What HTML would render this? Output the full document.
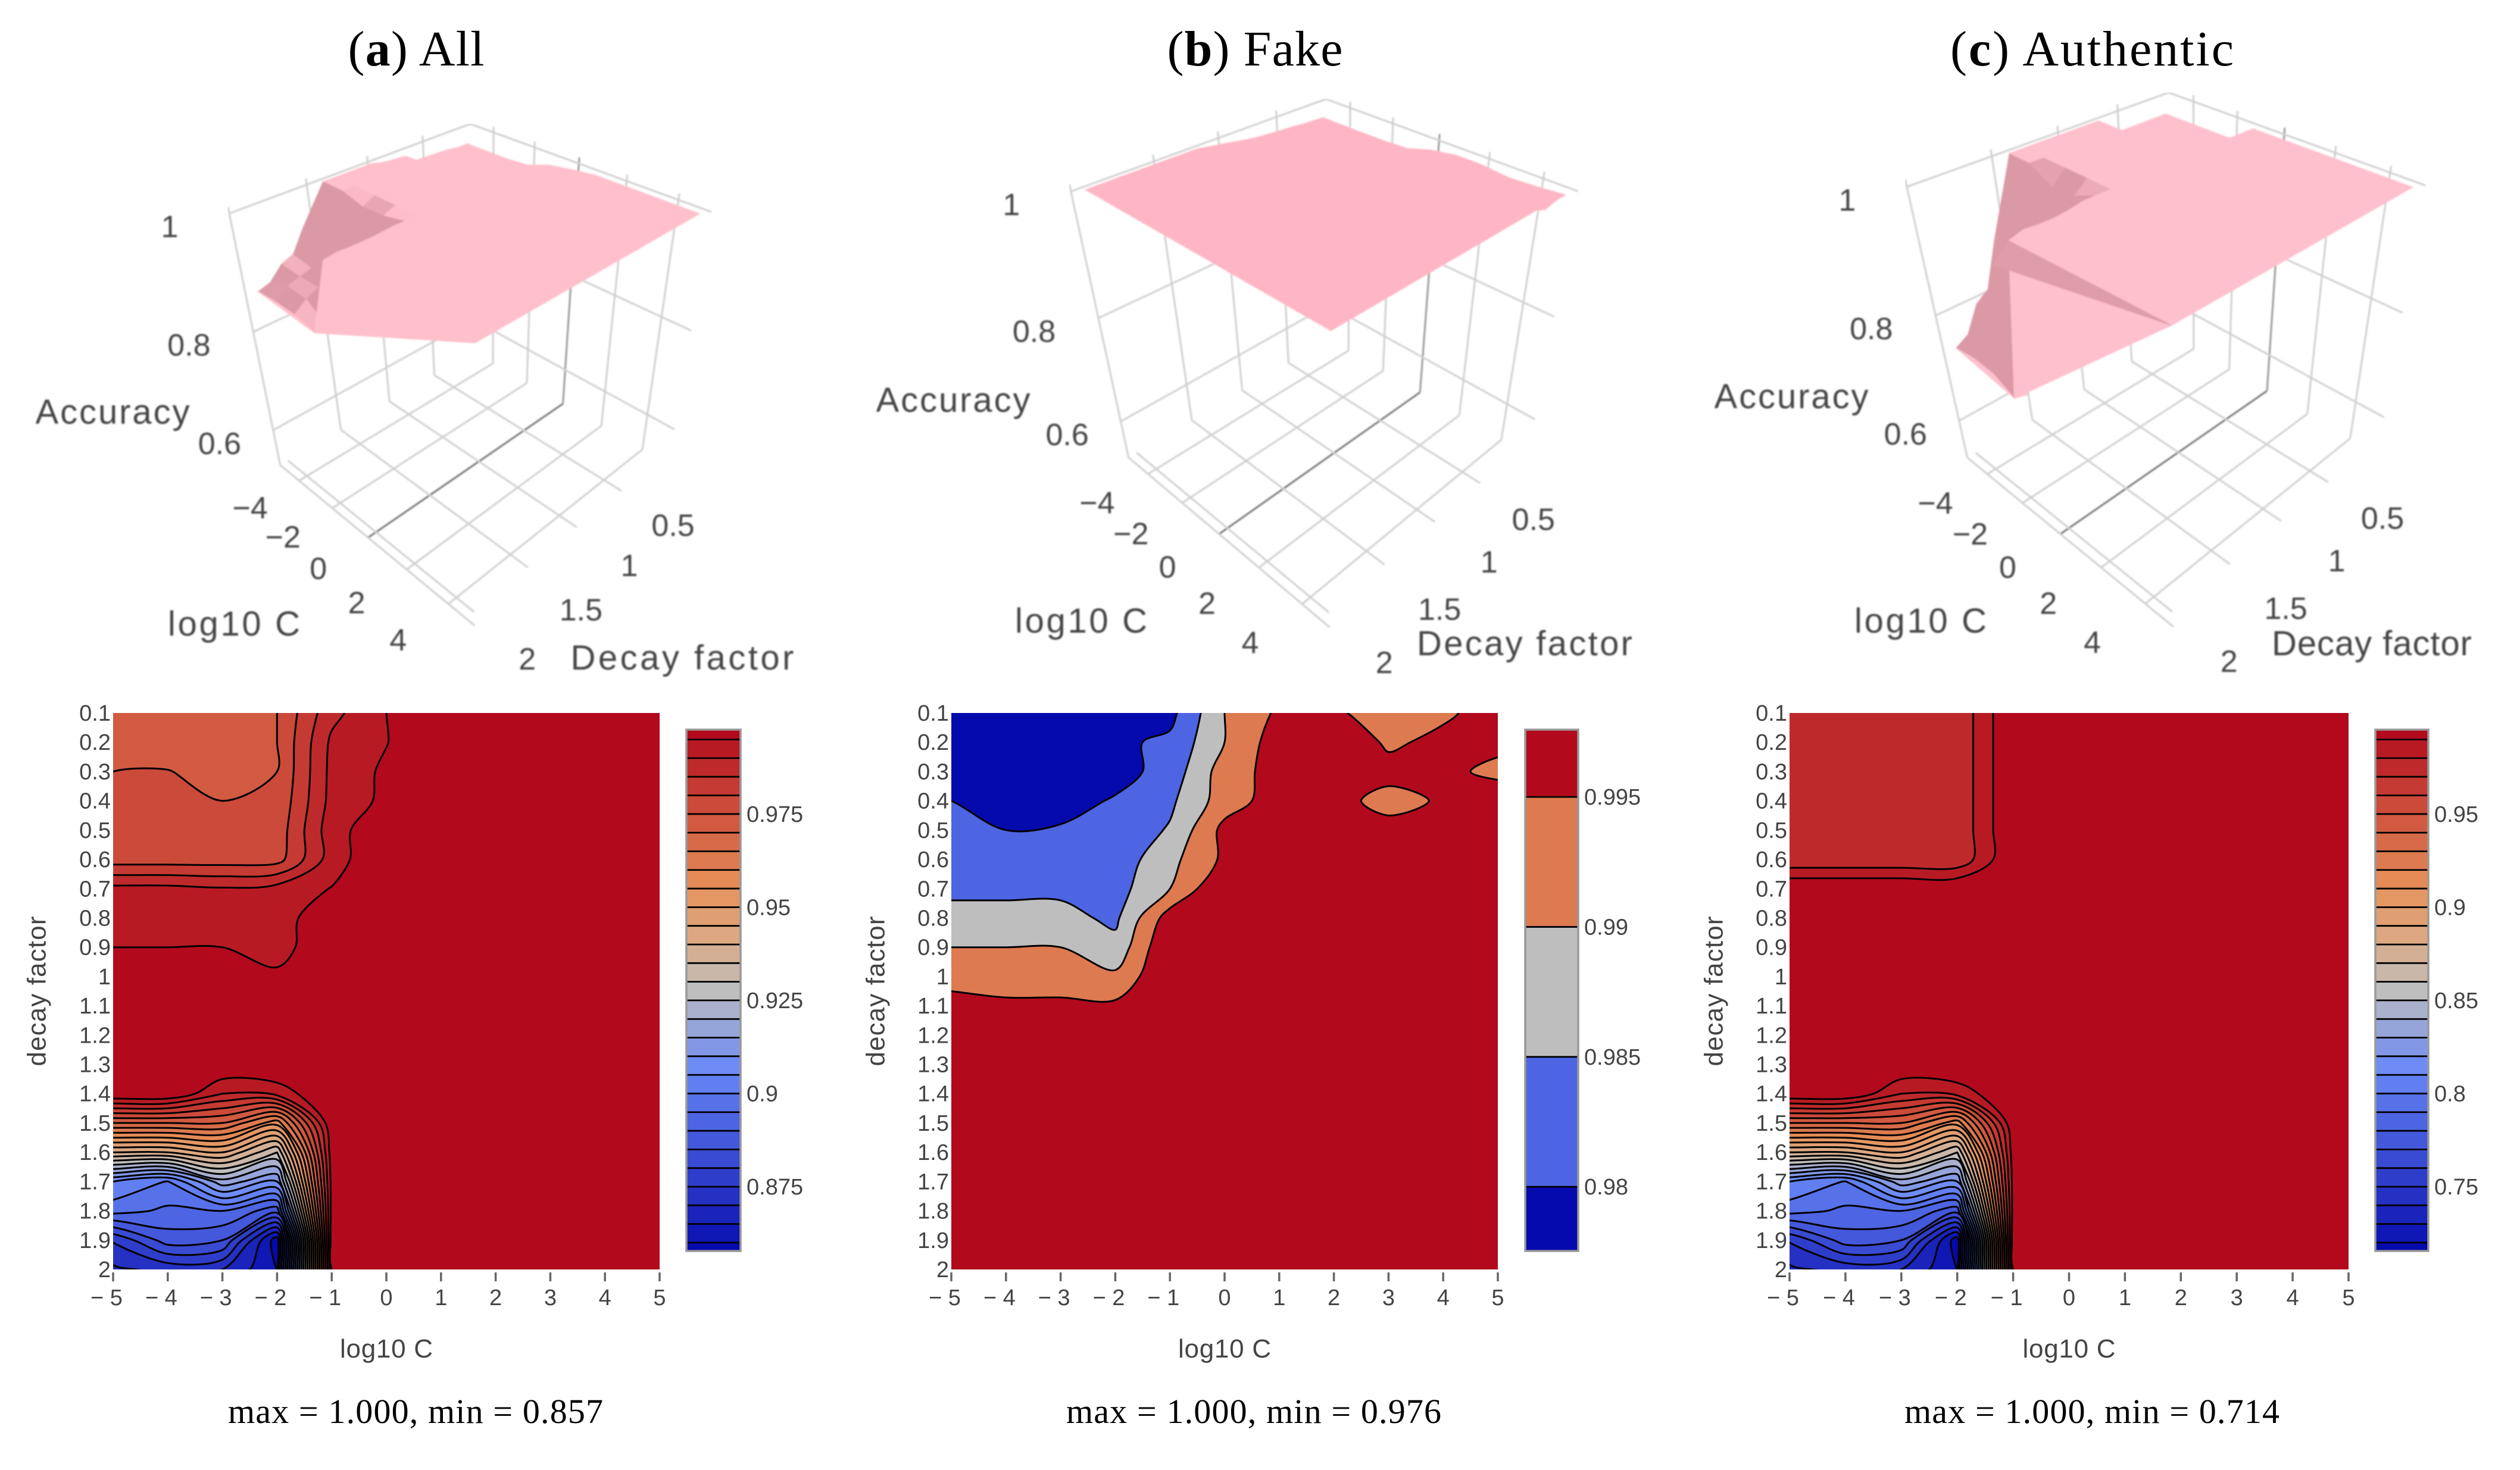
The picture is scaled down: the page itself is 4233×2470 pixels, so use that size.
<!DOCTYPE html>
<html lang="en">
<head>
<meta charset="utf-8">
<title>Accuracy surfaces and contour maps</title>
<style>
html,body{margin:0;padding:0;background:#fff;}
svg{display:block;}
text{font-family:"Liberation Sans",sans-serif;fill:#444;}
.serif{font-family:"Liberation Serif",serif;fill:#000;}
</style>
</head>
<body>
<svg id="figure" xmlns="http://www.w3.org/2000/svg" width="4233" height="2470" viewBox="0 0 4233 2470">
<defs>
<filter id="soft" x="0" y="0" width="100%" height="100%"><feGaussianBlur stdDeviation="1.4"/></filter>
<clipPath id="clip-all"><rect x="190" y="1198" width="918" height="935"/></clipPath>
<clipPath id="clip-fake"><rect x="1598" y="1198" width="918" height="935"/></clipPath>
<clipPath id="clip-auth"><rect x="3006" y="1198" width="939" height="935"/></clipPath>
</defs>
<rect width="4233" height="2470" fill="#fff"/>
</svg>
<script>
// ---------- data ----------
const logC = [-5,-4,-3,-2,-1,0,1,2,3,4,5];
const decay = [0.1,0.2,0.3,0.4,0.5,0.6,0.7,0.8,0.9,1,1.1,1.2,1.3,1.4,1.5,1.6,1.7,1.8,1.9,2];
const xTickLabels = ['− 5','− 4','− 3','− 2','− 1','0','1','2','3','4','5'];
const yTickLabels = ['0.1','0.2','0.3','0.4','0.5','0.6','0.7','0.8','0.9','1','1.1','1.2','1.3','1.4','1.5','1.6','1.7','1.8','1.9','2'];
const cTicks3d = [-4,-2,0,2,4];
const decayTicks3d = [0.5,1,1.5,2];
const accTicks3d = [1,0.8,0.6];

const zAll = [
[.972,.972,.972,.975,.9885,.995,1,1,1,1,1],
[.972,.972,.972,.975,.991,.9948,1,1,1,1,1],
[.975,.9752,.973,.975,.9915,.9959,1,1,1,1,1],
[.976,.977,.975,.976,.9917,.9961,1,1,1,1,1],
[.977,.977,.977,.977,.993,.9987,1,1,1,1,1],
[.9775,.9775,.9775,.978,.9925,1,1,1,1,1,1],
[.9915,.9915,.9905,.992,.9952,1,1,1,1,1,1],
[.993,.993,.992,.9925,.9989,1,1,1,1,1,1],
[.995,.995,.995,.9935,.998,1,1,1,1,1,1],
[1,1,1,.9957,1,1,1,1,1,1,1],
[1,1,1,1,1,1,1,1,1,1,1],
[1,1,1,1,1,1,1,1,1,1,1],
[1,1,1,1,1,1,1,1,1,1,1],
[1,1,.99,.992,1,1,1,1,1,1,1],
[.97,.97,.97,.957,1,1,1,1,1,1,1],
[.94,.94,.945,.93,.998,1,1,1,1,1,1],
[.905,.8997,.918,.91,.997,1,1,1,1,1,1],
[.897,.894,.895,.887,.997,1,1,1,1,1,1],
[.8755,.8875,.885,.857,.998,1,1,1,1,1,1],
[.869,.8715,.87,.86,.995,1,1,1,1,1,1]
];
const zFake = [
[.976,.976,.976,.9765,.9785,.99,.9959,.996,.992,.994,.9975],
[.977,.976,.977,.979,.981,.99,.9977,1,.994,.9965,.9971],
[.978,.977,.977,.978,.982,.9925,.997,1,.997,.997,.993],
[.98,.978,.978,.9805,.984,.9925,.9975,.997,.993,.9957,1],
[.981,.98,.9805,.9815,.9855,.9965,1,1,.997,1,1],
[.9825,.982,.982,.982,.9885,.996,1,1,1,1,1],
[.984,.984,.984,.983,.99,1,1,1,1,1,1],
[.9865,.9865,.9865,.984,.9975,1,1,1,1,1,1],
[.99,.99,.99,.9865,1,1,1,1,1,1,1],
[.9935,.993,.993,.991,1,1,1,1,1,1,1],
[.9965,.9958,.9958,.996,1,1,1,1,1,1,1],
[1,1,1,1,1,1,1,1,1,1,1],
[1,1,1,1,1,1,1,1,1,1,1],
[1,1,1,1,1,1,1,1,1,1,1],
[1,1,1,1,1,1,1,1,1,1,1],
[1,1,1,1,1,1,1,1,1,1,1],
[1,1,1,1,1,1,1,1,1,1,1],
[1,1,1,1,1,1,1,1,1,1,1],
[1,1,1,1,1,1,1,1,1,1,1],
[1,1,1,1,1,1,1,1,1,1,1]
];
const zAuth = [
[.972,.972,.972,.972,1,1,1,1,1,1,1],
[.972,.972,.972,.972,1,1,1,1,1,1,1],
[.972,.972,.972,.972,1,1,1,1,1,1,1],
[.972,.972,.972,.972,1,1,1,1,1,1,1],
[.972,.972,.972,.972,1,1,1,1,1,1,1],
[.972,.972,.972,.972,1,1,1,1,1,1,1],
[1,1,1,1,1,1,1,1,1,1,1],
[1,1,1,1,1,1,1,1,1,1,1],
[1,1,1,1,1,1,1,1,1,1,1],
[1,1,1,1,1,1,1,1,1,1,1],
[1,1,1,1,1,1,1,1,1,1,1],
[1,1,1,1,1,1,1,1,1,1,1],
[1,1,1,1,1,1,1,1,1,1,1],
[1,1,.98,.984,1,1,1,1,1,1,1],
[.94,.94,.94,.914,1,1,1,1,1,1,1],
[.88,.88,.89,.86,.996,1,1,1,1,1,1],
[.81,.7994,.836,.82,.994,1,1,1,1,1,1],
[.794,.788,.79,.774,.994,1,1,1,1,1,1],
[.751,.775,.77,.714,.996,1,1,1,1,1,1],
[.738,.743,.74,.72,.99,1,1,1,1,1,1]
];

const levelsAll = [.86,.865,.87,.875,.88,.885,.89,.895,.9,.905,.91,.915,.92,.925,.93,.935,.94,.945,.95,.955,.96,.965,.97,.975,.98,.985,.99,.995];
const levelsFake = [.98,.985,.99,.995];
const levelsAuth = [.72,.73,.74,.75,.76,.77,.78,.79,.8,.81,.82,.83,.84,.85,.86,.87,.88,.89,.9,.91,.92,.93,.94,.95,.96,.97,.98,.99];
const cbTicksAll = [.875,.9,.925,.95,.975];
const cbTicksFake = [.98,.985,.99,.995];
const cbTicksAuth = [.75,.8,.85,.9,.95];
const cbLabelsAll = ['0.875','0.9','0.925','0.95','0.975'];
const cbLabelsFake = ['0.98','0.985','0.99','0.995'];
const cbLabelsAuth = ['0.75','0.8','0.85','0.9','0.95'];
const cbRangeAll = [.85775,.99765];
const cbRangeFake = [.97753,.99759];
const cbRangeAuth = [.7155,.9953];

const colorStops = [[0,5,10,172],[.35,106,137,247],[.5,190,190,190],[.6,220,170,132],[.7,230,145,90],[1,178,10,28]];

// ---------- layout ----------
const plotTop = 1198, plotBottom = 2133, cbTop = 1226, cbBottom = 2102;
const panels = [
 {key:'all', letter:'a', word:' All', titleX:699, titleW:229, caption:'max = 1.000, min = 0.857', capX:698,
  z:zAll, levels:levelsAll, cbTicks:cbTicksAll, cbLabels:cbLabelsAll, cbRange:cbRangeAll,
  x0:190, x1:1108, cb0:1153, cb1:1244, yTitleX:65, clip:'clip-all', pink:[255,192,204], frontFold:false,
  cam:[[384,353],[790,192],[1196,349],[790,578],[469,773],[796,601],[1123,773],[799,1058]],
  acc:[189,697], lg:[393,1055], df:[1146,1112], dfW:375},
 {key:'fake', letter:'b', word:' Fake', titleX:2108, titleW:295, caption:'max = 1.000, min = 0.976', capX:2106,
  z:zFake, levels:levelsFake, cbTicks:cbTicksFake, cbLabels:cbLabelsFake, cbRange:cbRangeFake,
  x0:1598, x1:2516, cb0:2562, cb1:2651, yTitleX:1474, clip:'clip-fake', pink:[255,182,196], frontFold:false,
  cam:[[1799,315],[2224,152],[2657,315],[2224,552],[1893,766],[2235,572],[2563,762],[2237,1058]],
  acc:[1601,677], lg:[1816,1050], df:[2561,1088], dfW:362},
 {key:'auth', letter:'c', word:' Authentic', titleX:3514, titleW:476, caption:'max = 1.000, min = 0.714', capX:3514,
  z:zAuth, levels:levelsAuth, cbTicks:cbTicksAuth, cbLabels:cbLabelsAuth, cbRange:cbRangeAuth,
  x0:3006, x1:3945, cb0:3990, cb1:4079, yTitleX:2882, clip:'clip-auth', pink:[255,192,205], frontFold:true,
  cam:[[3203,307],[3638,140],[4080,307],[3638,542],[3303,766],[3654,570],[3991,758],[3651,1058]],
  acc:[3009,671], lg:[3226,1050], df:[3984,1088], dfW:336}
];
const NS = 'http://www.w3.org/2000/svg';
const root = document.getElementById('figure');

function mk(tag, attrs, parent){
  const el = document.createElementNS(NS, tag);
  for (const k in attrs) el.setAttribute(k, attrs[k]);
  (parent || root).appendChild(el);
  return el;
}
function label(parent, name, str, x, y, size, anchor, extra){
  const el = mk('text', Object.assign({x:x, y:y, 'font-size':size, 'text-anchor':anchor || 'middle'}, extra || {}), parent);
  el.textContent = str;
  
  
  return el;
}
function group(parent, name){
  const g = mk('g', {}, parent);
  
  
  return g;
}
function colorAt(t){
  for (let i = 1; i < colorStops.length; i++){
    if (t <= colorStops[i][0]){
      const a = colorStops[i-1], b = colorStops[i], f = (t-a[0])/(b[0]-a[0]);
      return 'rgb(' + [1,2,3].map(k => Math.round(a[k]+(b[k]-a[k])*f)).join(',') + ')';
    }
  }
  return 'rgb(178,10,28)';
}

// ---------- contour extraction (marching squares + plotly-style smoothing) ----------
function paddedGrid(z){
  const ny = z.length + 4, nx = z[0].length + 4, Z = [];
  for (let j = 0; j < ny; j++){ Z.push(new Array(nx).fill(9)); }
  for (let j = 0; j < z.length; j++) for (let i = 0; i < z[0].length; i++) Z[j+2][i+2] = z[j][i];
  for (let j = 2; j < ny-2; j++){
    Z[j][1] = 2*Z[j][2]-Z[j][3];
    Z[j][nx-2] = 2*Z[j][nx-3]-Z[j][nx-4];
  }
  for (let i = 1; i < nx-1; i++){
    Z[1][i] = 2*Z[2][i]-Z[3][i];
    Z[ny-2][i] = 2*Z[ny-3][i]-Z[ny-4][i];
  }
  return Z;
}
function contourLoops(Z, L, px, py){
  const ny = Z.length, nx = Z[0].length, adj = new Map(), pos = new Map();
  const link = (a, b) => {
    if (!adj.has(a)) adj.set(a, []);
    if (!adj.has(b)) adj.set(b, []);
    adj.get(a).push(b);
    adj.get(b).push(a);
  };
  const crossing = (kind, i, j) => {
    const key = kind + i + ',' + j;
    if (!pos.has(key)){
      if (kind === 'h'){
        const t = (L-Z[j][i])/(Z[j][i+1]-Z[j][i]);
        pos.set(key, [px(i)+(px(i+1)-px(i))*t, py(j)]);
      } else {
        const t = (L-Z[j][i])/(Z[j+1][i]-Z[j][i]);
        pos.set(key, [px(i), py(j)+(py(j+1)-py(j))*t]);
      }
    }
    return key;
  };
  for (let j = 0; j < ny-1; j++) for (let i = 0; i < nx-1; i++){
    const a = Z[j][i] < L, b = Z[j][i+1] < L, c = Z[j+1][i+1] < L, d = Z[j+1][i] < L;
    const m = (a?1:0) | (b?2:0) | (c?4:0) | (d?8:0);
    if (m === 0 || m === 15) continue;
    const top = () => crossing('h', i, j), bot = () => crossing('h', i, j+1);
    const lef = () => crossing('v', i, j), rig = () => crossing('v', i+1, j);
    const center = (Z[j][i]+Z[j][i+1]+Z[j+1][i+1]+Z[j+1][i])/4 < L;
    if (m === 1 || m === 14) link(lef(), top());
    else if (m === 2 || m === 13) link(top(), rig());
    else if (m === 3 || m === 12) link(lef(), rig());
    else if (m === 4 || m === 11) link(rig(), bot());
    else if (m === 6 || m === 9) link(top(), bot());
    else if (m === 7 || m === 8) link(lef(), bot());
    else if ((m === 5) === center){ link(top(), rig()); link(bot(), lef()); }
    else { link(lef(), top()); link(rig(), bot()); }
  }
  const seen = new Set(), loops = [];
  adj.forEach((nb, start) => {
    if (seen.has(start)) return;
    const loop = [];
    let prev = null, cur = start;
    while (cur && !seen.has(cur)){
      seen.add(cur);
      loop.push(pos.get(cur));
      const n = adj.get(cur);
      const next = (n[0] !== prev || prev === null) ? n[0] : n[1];
      prev = cur;
      cur = next;
    }
    loops.push(loop);
  });
  return loops;
}
function tangent(p, q, r){
  const d1x = p[0]-q[0], d1y = p[1]-q[1], d2x = r[0]-q[0], d2y = r[1]-q[1];
  const d1a = Math.pow(d1x*d1x+d1y*d1y, .25), d2a = Math.pow(d2x*d2x+d2y*d2y, .25);
  const nx = d2a*d2a*d1x-d1a*d1a*d2x, ny = d2a*d2a*d1y-d1a*d1a*d2y;
  const s1 = 3*d2a*(d1a+d2a), s2 = 3*d1a*(d1a+d2a);
  return [[q[0]+(s1 ? nx/s1 : 0), q[1]+(s1 ? ny/s1 : 0)], [q[0]-(s2 ? nx/s2 : 0), q[1]-(s2 ? ny/s2 : 0)]];
}
function smoothClosed(loop){
  const pts = [];
  loop.forEach(p => {
    const l = pts[pts.length-1];
    if (!l || Math.hypot(l[0]-p[0], l[1]-p[1]) > 1.5) pts.push(p);
  });
  const n = pts.length;
  if (n < 3) return '';
  const T = pts.map((q, i) => tangent(pts[(i+n-1)%n], q, pts[(i+1)%n]));
  const f = a => a[0].toFixed(1) + ' ' + a[1].toFixed(1);
  let d = 'M' + f(pts[0]);
  for (let i = 1; i <= n; i++){
    d += 'C' + f(T[i-1][1]) + ' ' + f(T[i%n][0]) + ' ' + f(pts[i%n]);
  }
  return d + 'Z';
}

// ---------- 2D contour panel ----------
function drawContour(P){
  const g = group(root, 'contour-panel-' + P.key);
  const xScale = v => P.x0 + (v-logC[0])/(logC[logC.length-1]-logC[0])*(P.x1-P.x0);
  const yScale = v => plotTop + (v-decay[0])/(decay[decay.length-1]-decay[0])*(plotBottom-plotTop);
  const n = P.levels.length;

  const plot = group(g, 'contour-plot-area');
  plot.setAttribute('clip-path', 'url(#' + P.clip + ')');
  const base = mk('rect', {x:P.x0, y:plotTop, width:P.x1-P.x0, height:plotBottom-plotTop, fill:colorAt(1)}, plot);
  
  

  const Z = paddedGrid(P.z);
  const px = i => xScale(logC[0]+(i-2)*(logC[1]-logC[0]));
  const py = j => yScale(decay[0]+(j-2)*(decay[1]-decay[0]));
  for (let k = n-1; k >= 0; k--){
    const loops = contourLoops(Z, P.levels[k]+1e-7, px, py);
    if (!loops.length) continue;
    const band = mk('path', {d:loops.map(smoothClosed).join(''), fill:colorAt(k/n), 'fill-rule':'evenodd', stroke:'#000', 'stroke-width':3}, plot);
    
    
  }

  // x axis
  const xAxis = group(g, 'x-axis');
  logC.forEach((v, i) => {
    const tick = mk('line', {x1:xScale(v), x2:xScale(v), y1:plotBottom+5, y2:plotBottom+20, stroke:'#666', 'stroke-width':3.5}, xAxis);
    
    
    label(xAxis, 'x-tick-label', xTickLabels[i], xScale(v)-(v < 0 ? 11 : 0), plotBottom+60, 38);
  });
  label(xAxis, 'x-axis-title', 'log10 C', (P.x0+P.x1)/2, plotBottom+148, 44, 'middle', {textLength:156, lengthAdjust:'spacing'});

  // y axis
  const yAxis = group(g, 'y-axis');
  decay.forEach((v, i) => {
    label(yAxis, 'y-tick-label', yTickLabels[i], P.x0-4, yScale(v)+13, 38, 'end');
  });
  const yt = label(yAxis, 'y-axis-title', 'decay factor', P.yTitleX, (plotTop+plotBottom)/2, 44, 'middle', {textLength:252, lengthAdjust:'spacing', 'dominant-baseline':'middle'});
  yt.setAttribute('transform', 'rotate(-90 ' + P.yTitleX + ' ' + (plotTop+plotBottom)/2 + ')');

  // colorbar
  const cb = group(g, 'colorbar');
  const cbY = v => cbBottom - (v-P.cbRange[0])/(P.cbRange[1]-P.cbRange[0])*(cbBottom-cbTop);
  const edges = [P.cbRange[0]].concat(P.levels, [P.cbRange[1]]);
  for (let k = 0; k < edges.length-1; k++){
    const r = mk('rect', {x:P.cb0, y:cbY(edges[k+1]), width:P.cb1-P.cb0, height:cbY(edges[k])-cbY(edges[k+1]), fill:colorAt(k/n)}, cb);
    
    
  }
  P.levels.forEach(v => {
    const l = mk('line', {x1:P.cb0, x2:P.cb1, y1:cbY(v), y2:cbY(v), stroke:'#000', 'stroke-width':2.8}, cb);
    
    
  });
  const frame = mk('rect', {x:P.cb0, y:cbTop, width:P.cb1-P.cb0, height:cbBottom-cbTop, fill:'none', stroke:'#999', 'stroke-width':3.5}, cb);
  
  
  P.cbTicks.forEach((v, i) => {
    label(cb, 'colorbar-tick-label', P.cbLabels[i], P.cb1+10, cbY(v)+13, 38, 'start');
  });
}

// ---------- 3D panel ----------
function solveCamera(anchors){
  // unit cube corners: L, B, R, F on top then bottom
  const cube = [[0,1,1],[0,0,1],[1,0,1],[1,1,1],[0,1,0],[0,0,0],[1,0,0],[1,1,0]];
  const A = [], b = [];
  cube.forEach((c, i) => {
    const u = anchors[i][0]/1000, v = anchors[i][1]/1000;
    A.push([c[0],c[1],c[2],1,0,0,0,0,-u*c[0],-u*c[1],-u*c[2]]); b.push(u);
    A.push([0,0,0,0,c[0],c[1],c[2],1,-v*c[0],-v*c[1],-v*c[2]]); b.push(v);
  });
  const N = 11, M = [];
  for (let i = 0; i < N; i++){
    const row = new Array(N+1).fill(0);
    for (let r = 0; r < A.length; r++){
      for (let j = 0; j < N; j++) row[j] += A[r][i]*A[r][j];
      row[N] += A[r][i]*b[r];
    }
    M.push(row);
  }
  for (let i = 0; i < N; i++){
    let piv = i;
    for (let r = i+1; r < N; r++) if (Math.abs(M[r][i]) > Math.abs(M[piv][i])) piv = r;
    const t = M[i]; M[i] = M[piv]; M[piv] = t;
    for (let r = 0; r < N; r++){
      if (r === i) continue;
      const f = M[r][i]/M[i][i];
      for (let j = i; j <= N; j++) M[r][j] -= f*M[i][j];
    }
  }
  const p = M.map((row, i) => row[N]/row[i]);
  return (cx, cy, cz) => {
    const w = p[8]*cx+p[9]*cy+p[10]*cz+1;
    return [(p[0]*cx+p[1]*cy+p[2]*cz+p[3])/w*1000, (p[4]*cx+p[5]*cy+p[6]*cz+p[7])/w*1000, w];
  };
}
function draw3d(P){
  const g = group(root, 'surface-panel-' + P.key);
  const art = group(g, 'surface-scene');
  art.setAttribute('filter', 'url(#soft)');
  const zBot = 0.52, zTop = 1.01;
  const cMin = -5.2, cMax = 5.2, dMin = 0.03, dMax = 2.07;
  const cam = solveCamera(P.cam);
  const project = (c, d, a) => cam((c-cMin)/(cMax-cMin), (d-dMin)/(dMax-dMin), (a-zBot)/(zTop-zBot));
  const gridLine = (a, b, name, color) => {
    const p = project(a[0], a[1], a[2]), q = project(b[0], b[1], b[2]);
    const l = mk('line', {x1:p[0], y1:p[1], x2:q[0], y2:q[1], stroke:color || '#cfcfcf', 'stroke-width':3}, art);
    
    
  };
  const C1 = logC[logC.length-1], C0 = logC[0], D1 = decay[decay.length-1];
  // floor and wall grid lines
  cTicks3d.forEach(c => {
    const color = c === 0 ? '#777' : '#cfcfcf';
    gridLine([c,dMax,zBot],[c,dMin,zBot],'floor-grid-log-c',color);
    gridLine([c,dMin,zBot],[c,dMin,zTop],'back-wall-grid-log-c', c === 0 ? '#999' : '#cfcfcf');
  });
  decayTicks3d.forEach(d => {
    gridLine([cMin,d,zBot],[cMax-0.4,d,zBot],'floor-grid-decay');
    if (d < 2) gridLine([cMin,d,zBot],[cMin,d,zTop],'left-wall-grid-decay');
  });
  accTicks3d.forEach(a => {
    gridLine([cMin,dMax,a],[cMin,dMin,a],'left-wall-grid-accuracy');
    gridLine([cMin,dMin,a],[cMax,dMin,a],'back-wall-grid-accuracy');
  });
  gridLine([cMin,dMax,zBot],[cMin,dMax,zTop],'left-edge');
  gridLine([cMin,dMax,zBot],[cMax,dMax,zBot],'front-left-edge');

  // surface facets
  const pink = P.pink, dark = [219,152,165];
  const tint = f => 'rgb(' + pink.map((v, i) => Math.round(v+(dark[i]-v)*f)).join(',') + ')';
  const facets = [];
  const Z = P.z;
  const addFacet = (verts, f) => {
    const pts = verts.map(v => project(v[0], v[1], v[2]));
    facets.push({pts:pts, depth:pts.reduce((s, q) => s+Math.abs(q[2]), 0)/pts.length, f:f});
  };
  // the mesh closes each boundary profile against its lower chord
  const hullBelow = prof => {
    const hull = [];
    prof.forEach(p => {
      while (hull.length > 1){
        const a = hull[hull.length-2], b = hull[hull.length-1];
        if ((b[0]-a[0])*(p[1]-a[1])-(b[1]-a[1])*(p[0]-a[0]) <= 0) hull.pop(); else break;
      }
      hull.push(p);
    });
    return hull;
  };
  const lastRow = Z[Z.length-1];
  const rowProfile = logC.map((c, i) => [c, lastRow[i]]);
  const rowHull = hullBelow(rowProfile).reverse();
  const rowPoly = rowProfile.map(p => [p[0], D1, p[1]]).concat(rowHull.map(p => [p[0], D1, p[1]]));
  const colProfile = decay.map((d, j) => [d, Z[j][0]]);
  const colHull = hullBelow(colProfile).reverse();
  const colPoly = colProfile.map(p => [C0, p[0], p[1]]).concat(colHull.map(p => [C0, p[0], p[1]]));
  const drawPoly = (verts, f, name) => {
    const s = verts.map(v => { const q = project(v[0], v[1], v[2]); return q[0].toFixed(1)+','+q[1].toFixed(1); }).join(' ');
    const poly = mk('polygon', {points:s, fill:tint(f), stroke:tint(f), 'stroke-width':1}, art);
    
    
  };
  drawPoly(colPoly, 0.9, 'surface-left-edge-skirt');
  for (let j = 0; j < decay.length-1; j++) for (let i = 0; i < logC.length-1; i++){
    const a = Z[j][i], b = Z[j][i+1], c = Z[j+1][i+1], d = Z[j+1][i];
    const sy = ((c+d-a-b)/2/(zTop-zBot))/((decay[j+1]-decay[j])/(dMax-dMin));
    const f = Math.max(0, Math.min(1, (-sy-0.15)/0.35));
    addFacet([[logC[i],decay[j],a],[logC[i+1],decay[j],b],[logC[i+1],decay[j+1],c],[logC[i],decay[j+1],d]], f);
  }
  facets.sort((p, q) => q.depth-p.depth);
  facets.forEach(fc => {
    const s = fc.pts.map(q => q[0].toFixed(1)+','+q[1].toFixed(1)).join(' ');
    const col = tint(fc.f);
    const poly = mk('polygon', {points:s, fill:col, stroke:col, 'stroke-width':1.2}, art);
    
    
  });
  drawPoly(rowPoly, 0, 'surface-front-edge-skirt');
  if (P.frontFold){
    const low = Math.min.apply(null, lastRow), high = Math.max.apply(null, lastRow);
    drawPoly([[logC[4],D1,lastRow[4]],[C1,D1,lastRow[10]],[logC[3],D1,low+(high-low)*0.78]], 0.9, 'surface-front-fold');
  }

  // labels
  const labels = group(g, 'surface-labels');
  labels.setAttribute('filter', 'url(#soft)');
  cTicks3d.forEach(c => {
    const q = project(c, D1+0.42, zBot);
    label(labels, 'log-c-tick-label', (c < 0 ? '−' : '') + Math.abs(c), q[0]-14, q[1]+22, 52, 'middle', {fill:'#555'});
  });
  decayTicks3d.forEach(d => {
    const q = project(C1+2.3, d, zBot);
    label(labels, 'decay-tick-label', String(d), q[0]-10, q[1]+16, 52, 'middle', {fill:'#555'});
  });
  accTicks3d.forEach(a => {
    const q = project(cMin, dMax, a);
    label(labels, 'accuracy-tick-label', a === 1 ? '1' : a.toFixed(1), q[0]-(a === 0.6 ? 90 : a === 1 ? 100 : 108), q[1]+40, 52, 'middle', {fill:'#555'});
  });
  label(labels, 'accuracy-axis-title', 'Accuracy', P.acc[0], P.acc[1]+15, 58, 'middle', {fill:'#555', textLength:259, lengthAdjust:'spacing'});
  label(labels, 'log-c-axis-title', 'log10 C', P.lg[0], P.lg[1]+13, 58, 'middle', {fill:'#555', textLength:222, lengthAdjust:'spacing'});
  label(labels, 'decay-factor-axis-title', 'Decay factor', P.df[0], P.df[1]+13, 58, 'middle', {fill:'#555', textLength:P.dfW, lengthAdjust:'spacing'});
}

// ---------- titles and captions ----------
function drawText(P){
  const t = mk('text', {x:P.titleX, y:110, 'font-size':84, 'text-anchor':'middle', 'class':'serif', textLength:P.titleW, lengthAdjust:'spacing'});
  
  
  t.appendChild(document.createTextNode('('));
  const b = mk('tspan', {'font-weight':'bold'}, t);
  b.textContent = P.letter;
  t.appendChild(document.createTextNode(')' + P.word));
  const cap = label(root, 'panel-caption-' + P.key, P.caption, P.capX, 2391, 58, 'middle', {textLength:630, lengthAdjust:'spacing'});
  cap.setAttribute('class', 'serif');
}

panels.forEach(P => { draw3d(P); drawContour(P); drawText(P); });
</script>
</body>
</html>
